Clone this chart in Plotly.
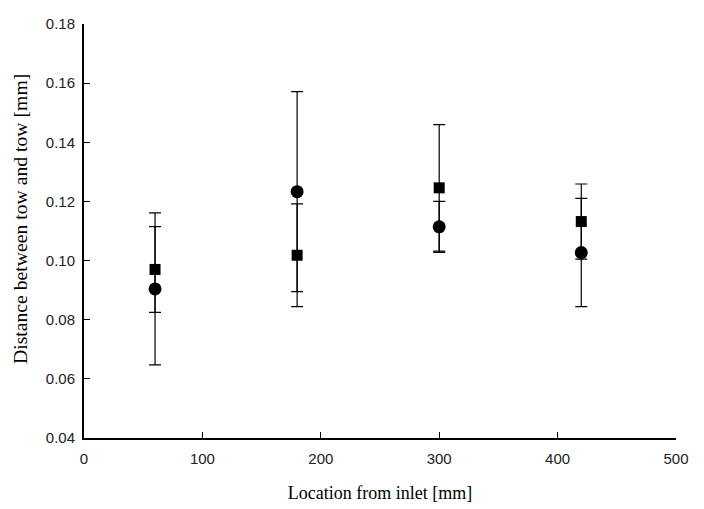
import plotly.graph_objects as go

# Location from inlet [mm]
location = [60, 180, 300, 420]

# Circle series (mean and +/- error)
circle_y = [0.0904, 0.1233, 0.1114, 0.1027]
circle_err = [0.0257, 0.0338, 0.0086, 0.0183]

# Square series (mean and +/- error)
square_y = [0.0970, 0.1018, 0.1246, 0.1132]
square_err = [0.0145, 0.0174, 0.0214, 0.0127]

x_ticks = [0, 100, 200, 300, 400, 500]
y_ticks = [0.04, 0.06, 0.08, 0.10, 0.12, 0.14, 0.16, 0.18]

_ERR = dict(type="data", visible=True, thickness=1.2, width=6, color="black")
_SERIF = "Liberation Serif, Times New Roman"

fig = go.Figure()
fig.add_trace(go.Scatter(
    x=location, y=circle_y, mode="markers", name="circle",
    marker=dict(symbol="circle", size=13, color="black"),
    error_y=dict(array=circle_err, **_ERR),
))
fig.add_trace(go.Scatter(
    x=location, y=square_y, mode="markers", name="square",
    marker=dict(symbol="square", size=11, color="black"),
    error_y=dict(array=square_err, **_ERR),
))

axis_common = dict(
    showline=True, linecolor="black", linewidth=2, mirror=False,
    showgrid=False, zeroline=False, automargin=False,
    ticks="inside", ticklen=6, tickwidth=1, tickcolor="black",
    tickfont=dict(family="Liberation Sans, Arial", size=15, color="#222"),
)

# page body has an 8px margin, so the figure is sized/margined to land the
# plot area where the reference has it
fig.update_layout(
    width=696, height=501,
    template="plotly_white",
    plot_bgcolor="white", paper_bgcolor="white",
    margin=dict(l=76, r=28, t=16, b=71),
    showlegend=False,
    xaxis=dict(range=[0, 500], tickvals=x_ticks, ticktext=[str(v) for v in x_ticks],
               ticklabelstandoff=6,
               title=dict(text="Location from inlet [mm]", standoff=20,
                          font=dict(family=_SERIF, size=18, color="black")),
               **axis_common),
    yaxis=dict(range=[0.04, 0.18], tickvals=y_ticks, ticktext=[f"{v:.2f}" for v in y_ticks],
               ticklabelstandoff=4, **axis_common),
)

# y title as an annotation: in the reference it sits a little above the axis centre
fig.add_annotation(
    text="Distance between tow and tow [mm]", textangle=-90,
    xref="paper", yref="paper", x=-0.108, y=0.529,
    xanchor="center", yanchor="middle", showarrow=False,
    font=dict(family=_SERIF, size=19.7, color="black"),
)

fig.write_html("out.html")
